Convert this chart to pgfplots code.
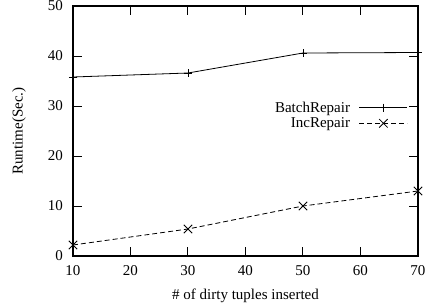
\documentclass[border=0pt]{standalone}
\usepackage{pgfplots}
\pgfplotsset{compat=1.18}
\usepackage{fontspec}
\setmainfont{Liberation Serif}
\newcommand\ff{\fontsize{15bp}{17bp}\selectfont}
\begin{document}
\begin{tikzpicture}
\useasboundingbox (-73bp,-51bp) rectangle (352bp,256bp);
\begin{axis}[
  scale only axis,
  width=345bp, height=250bp,
  xmin=10, xmax=70, ymin=0, ymax=50,
  xtick={10,20,...,70}, ytick={0,10,...,50},
  tick align=inside,
  major tick length=9bp,
  axis line style={line width=1.4bp},
  every tick/.style={black, line width=1bp},
  /pgf/number format/assume math mode=true,
  tick label style={font=\ff},
  label style={font=\ff},
  xticklabel style={anchor=north, inner sep=0pt, yshift=-9bp},
  yticklabel style={anchor=east, inner sep=0pt, xshift=-10bp},
  xlabel={\# of dirty tuples inserted},
  ylabel={Runtime(Sec.)},
  every axis x label/.style={at={([yshift=-40bp]axis description cs:0.5,0)}, anchor=center, font=\ff},
  every axis y label/.style={at={([xshift=-54bp]axis description cs:0,0.5)}, rotate=90, anchor=center, font=\ff},
  legend plot pos=right,
  legend cell align=right,
  legend style={draw=none, fill=none, at={(0.971,0.626)}, anchor=north east, inner sep=0pt, row sep=0bp, font=\ff,
    /tikz/every odd column/.append style={column sep=7bp}},
  legend image code/.code={\draw[mark repeat=2,mark phase=2,#1] plot coordinates {(0bp,0bp) (24bp,0bp) (48bp,0bp)};},
]
\addplot[black, line width=0.8bp, mark=+, mark size=4bp, mark options={solid, line width=0.8bp}] coordinates {(10,35.8) (30,36.6) (50,40.6) (70,40.7)};
\addlegendentry{BatchRepair}
\addplot[black, line width=0.8bp, dash pattern=on 5bp off 3bp, mark=x, mark size=6bp, mark options={solid, line width=0.8bp}] coordinates {(10,2.2) (30,5.4) (50,10.0) (70,13.0)};
\addlegendentry{IncRepair}
\end{axis}
\end{tikzpicture}
\end{document}
